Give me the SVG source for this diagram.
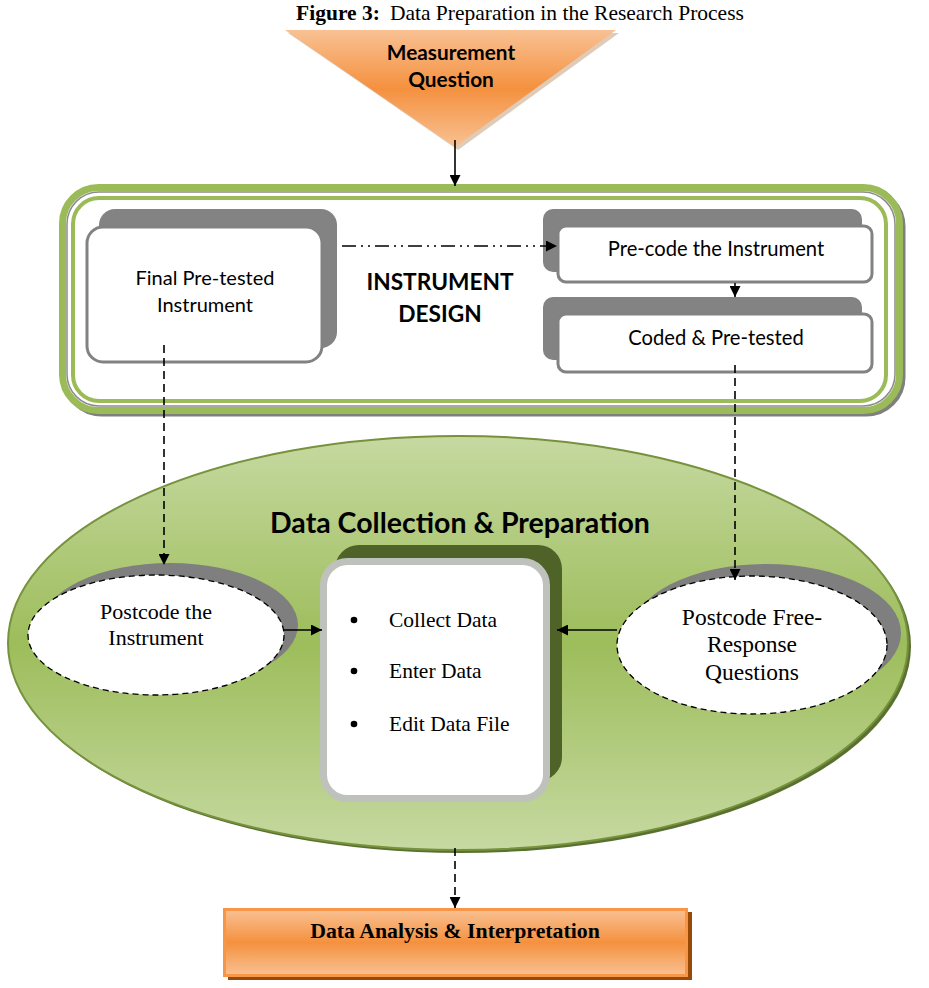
<svg xmlns="http://www.w3.org/2000/svg" width="929" height="988" viewBox="0 0 929 988">
<defs>
<linearGradient id="gOrange" x1="0" y1="0" x2="0" y2="1">
<stop offset="0" stop-color="#f9c193"/>
<stop offset="0.5" stop-color="#f4913f"/>
<stop offset="1" stop-color="#f9c193"/>
</linearGradient>
<linearGradient id="gGreen" x1="0" y1="0" x2="0" y2="1">
<stop offset="0" stop-color="#c6d9a1"/>
<stop offset="0.5" stop-color="#9dbd5b"/>
<stop offset="1" stop-color="#c6d9a1"/>
</linearGradient>
<marker id="ah" viewBox="0 0 10 10" refX="10" refY="5" markerWidth="11" markerHeight="11" markerUnits="userSpaceOnUse" orient="auto">
<path d="M0,0 L10,5 L0,10 z" fill="#000"/>
</marker>
</defs>
<style>
.sans{font-family:Lato,"Liberation Sans",Arial,sans-serif;fill:#000}
.serif{font-family:"Liberation Serif","Times New Roman",serif;fill:#000}
.back{fill:#838383}
.card{fill:#fff;stroke:#828282;stroke-width:3}
.oval{fill:#fff;stroke:#000;stroke-width:1.3;stroke-dasharray:6 4}
.con{fill:none;stroke:#000;stroke-width:1.6}
.dash{stroke-dasharray:8 5}
</style>
<rect width="929" height="988" fill="#fff"/>
<text x="520" y="20" text-anchor="middle" class="serif" font-size="21.5"><tspan font-weight="bold">Figure 3:</tspan><tspan dx="10">Data Preparation in the Research Process</tspan></text>

<g id="measurement">
<polygon points="288,33 619,33 458,150" fill="#c9a888" opacity="0.6"/>
<polygon points="285,30 616,30 455,147" fill="url(#gOrange)"/>
<text x="451" y="60" text-anchor="middle" class="sans" font-size="20.8" font-weight="bold">Measurement</text>
<text x="451" y="87" text-anchor="middle" class="sans" font-size="20.8" font-weight="bold">Question</text>
</g>

<g id="instrument-design">
<rect x="65.5" y="190.5" width="837" height="223" rx="36" fill="none" stroke="#7f7f7f" stroke-width="6"/>
<rect x="62.5" y="187.5" width="837" height="223" rx="36" fill="#fff" stroke="#9bbb59" stroke-width="7"/>
<rect x="67" y="192" width="828" height="214" rx="32" fill="none" stroke="#8c8c8c" stroke-width="1.5"/>
<rect x="73" y="198" width="813" height="203" rx="26" fill="#fff" stroke="#9bbb59" stroke-width="4"/>
<text x="440" y="290" text-anchor="middle" class="sans" font-size="22.7" font-weight="bold">INSTRUMENT</text>
<text x="440" y="322" text-anchor="middle" class="sans" font-size="22.7" font-weight="bold">DESIGN</text>
</g>

<g id="final-pretested">
<rect x="99" y="209" width="238" height="139" rx="16" class="back"/>
<rect x="87" y="227" width="235" height="135" rx="16" class="card"/>
<text x="205" y="285" text-anchor="middle" class="sans" font-size="20">Final Pre-tested</text>
<text x="205" y="312" text-anchor="middle" class="sans" font-size="20">Instrument</text>
</g>

<g id="precode">
<rect x="543" y="209" width="319" height="63" rx="10" class="back"/>
<rect x="558" y="226" width="314" height="56" rx="8" class="card"/>
<text x="716" y="256" text-anchor="middle" class="sans" font-size="20.2">Pre-code the Instrument</text>
</g>

<g id="coded">
<rect x="543" y="297" width="319" height="63" rx="10" class="back"/>
<rect x="558" y="314" width="314" height="58" rx="8" class="card"/>
<text x="716" y="345" text-anchor="middle" class="sans" font-size="20.2">Coded &amp; Pre-tested</text>
</g>

<g id="data-collection">
<ellipse cx="461" cy="646" rx="450" ry="207" fill="#5a7030"/>
<ellipse cx="458" cy="643" rx="450" ry="207" fill="url(#gGreen)" stroke="#76923c" stroke-width="2"/>
<text x="460" y="533" text-anchor="middle" class="sans" font-size="28.5" font-weight="bold">Data Collection &amp; Preparation</text>
</g>

<g id="postcode-instrument">
<ellipse cx="170" cy="625" rx="128" ry="62" fill="#7f7f7f"/>
<ellipse cx="156" cy="635" rx="128" ry="60" class="oval"/>
<text x="156" y="619" text-anchor="middle" class="serif" font-size="22">Postcode the</text>
<text x="156" y="645" text-anchor="middle" class="serif" font-size="22">Instrument</text>
</g>

<g id="postcode-free">
<ellipse cx="766" cy="633" rx="135" ry="69" fill="#7f7f7f"/>
<ellipse cx="752" cy="645" rx="135" ry="69" class="oval"/>
<text x="752" y="625" text-anchor="middle" class="serif" font-size="23.5">Postcode Free-</text>
<text x="752" y="652" text-anchor="middle" class="serif" font-size="23.5">Response</text>
<text x="752" y="680" text-anchor="middle" class="serif" font-size="23.5">Questions</text>
</g>

<g id="collect-box">
<rect x="335" y="545" width="227" height="236" rx="24" fill="#4f6228"/>
<rect x="323.5" y="561.5" width="223" height="237" rx="24" fill="#fff" stroke="#bfc1bc" stroke-width="7"/>
<circle cx="354" cy="620" r="3.3" fill="#000"/>
<circle cx="354" cy="671" r="3.3" fill="#000"/>
<circle cx="354" cy="724" r="3.3" fill="#000"/>
<text x="389" y="627" class="serif" font-size="21.5">Collect Data</text>
<text x="389" y="678" class="serif" font-size="21.5">Enter Data</text>
<text x="389" y="731" class="serif" font-size="21.5">Edit Data File</text>
</g>

<g id="analysis">
<rect x="228" y="912" width="464" height="68" fill="#984807"/>
<rect x="224.5" y="909.5" width="462" height="66" fill="url(#gOrange)" stroke="#f79646" stroke-width="3"/>
<text x="455" y="938" text-anchor="middle" class="serif" font-size="21.8" font-weight="bold">Data Analysis &amp; Interpretation</text>
</g>

<g id="connectors">
<path class="con" d="M455,140 L455,186" marker-end="url(#ah)"/>
<path class="con" d="M342,246 L557,246" stroke-dasharray="14 5 2 5 2 5" marker-end="url(#ah)"/>
<path class="con" d="M735,283 L735,297" marker-end="url(#ah)"/>
<path class="con dash" d="M164,345 L164,565" marker-end="url(#ah)"/>
<path class="con dash" d="M735,365 L735,580" marker-end="url(#ah)"/>
<path class="con" d="M283,630 L322,630" marker-end="url(#ah)"/>
<path class="con" d="M617,630 L557,630" marker-end="url(#ah)"/>
<path class="con dash" d="M455,848 L455,908" marker-end="url(#ah)"/>
</g>
</svg>
